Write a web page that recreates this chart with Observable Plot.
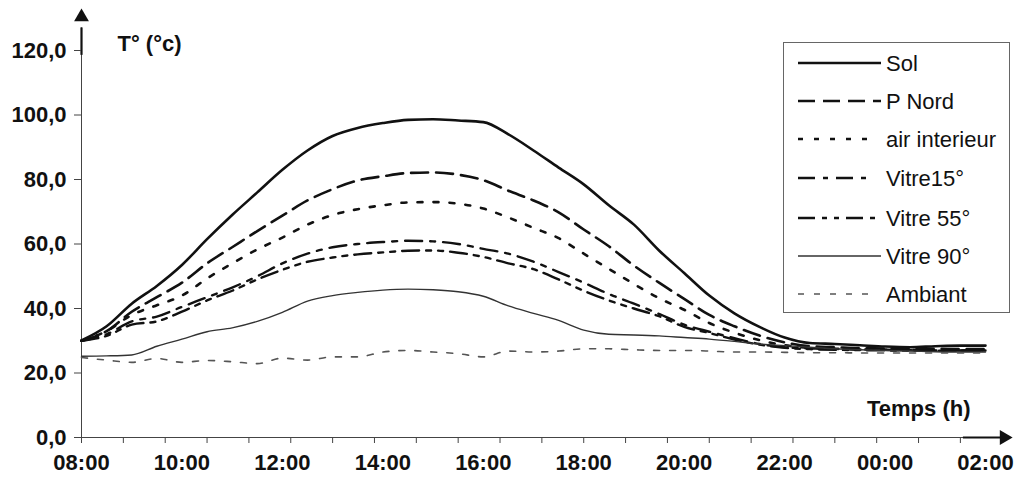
<!DOCTYPE html>
<html><head><meta charset="utf-8">
<script src="https://cdn.jsdelivr.net/npm/d3@7"></script>
<script src="https://cdn.jsdelivr.net/npm/@observablehq/plot@0.6"></script>
<style>
body{margin:0;background:#fff;font-family:"Liberation Sans",Arial,sans-serif}
#wrap{position:relative;width:1016px;height:487px;overflow:hidden}
#legend{position:absolute;left:783px;top:42px;width:227px;height:271px;border:1px solid #666;box-sizing:border-box;background:#fff}
</style></head><body><div id="wrap"></div>
<script>
// time in hours (08:00 = 8, 02:00 next day = 26), every 30 min
const times = d3.range(8, 26.01, 0.5);
const sol =        [30.1,34.5,41.5,47,53.5,61.5,69,76,83,89,93.5,96,97.5,98.5,98.7,98.3,97.8,94,89,83.7,78.5,72,66,58,51,44,38.5,34.3,31,29.3,29,28.6,28.2,28,28.3,28.5,28.5];
const pNord =      [30,33,39,43.5,48,54,59,64,68.8,73.5,77,79.7,81,82,82.2,81.5,79.8,76.5,73.5,69.8,64.5,59.3,53.3,48,43,38,34.5,31.6,29.5,28.3,28,27.7,27.6,27.5,27.5,27.4,27.4];
const airInt =     [30,33,38,41,44,49.3,54,58.3,62,66,69,70.8,72,72.9,73,72.5,71,68.2,65,61.8,57,52.3,47.6,43.2,39.6,35.5,32.5,30.2,28.6,27.8,27.5,27.3,27.2,27.1,27,27,27];
const vitre15 =    [30,32,36,37.5,40.5,43.5,46.5,50,54,57,59,60,60.6,61,60.8,60,58.5,57,54.5,51.3,48,44.5,41.5,38.3,35,32.8,30.8,29,28,27.6,27.5,27.3,27.2,27.1,27,27,27];
const vitre55 =    [30,31.5,35,36,39,42.5,45.5,49,52,54.5,55.8,56.8,57.4,57.9,58,57.3,56,54,52.2,49,45.5,42.5,40,37.6,34.3,32.4,30.4,28.8,27.8,27.4,27.2,27.1,27,27,26.9,26.9,26.9];
const vitre90 =    [25.2,25.3,25.6,28.3,30.5,32.8,34,36,38.8,42.3,44,45,45.7,46,45.8,45.2,43.8,40.8,38.5,36.3,33.3,32,31.8,31.5,31,30.5,29.8,29,28.5,28,27.5,27.2,27,26.8,26.6,26.5,26.5];
const ambiant =    [24.8,24,23.3,24.5,23.3,23.9,23.5,22.9,24.6,24,25,25,26.5,27,26.5,26,25,26.8,26.5,26.8,27.5,27.5,27.2,27,27,26.8,26.5,26.5,26.4,26.3,26.3,26.2,26.2,26.2,26.2,26.2,26.2];

const seriesNames = ["Sol","P Nord","air interieur","Vitre15°","Vitre 55°","Vitre 90°","Ambiant"];
const seriesValues = [sol,pNord,airInt,vitre15,vitre55,vitre90,ambiant];
const styles = [
  {stroke:"#111", width:2.6, dash:null},
  {stroke:"#111", width:2.6, dash:"17,8"},
  {stroke:"#111", width:2.6, dash:"5,11"},
  {stroke:"#111", width:2.4, dash:"17,8,5,8"},
  {stroke:"#111", width:2.4, dash:"17,7,5,7,5,7"},
  {stroke:"#333", width:1.4, dash:null},
  {stroke:"#555", width:1.6, dash:"6,10"}
];

const xLabelHours = [8,10,12,14,16,18,20,22,24,26];
const xLabels = ["08:00","10:00","12:00","14:00","16:00","18:00","20:00","22:00","00:00","02:00"];
const xMinorTicks = d3.range(0, 22).map(k => 8 + k * 5 / 6);
const yTicks = [0,20,40,60,80,100,120];
const xAxisEnd = 26.3, xArrowTip = 26.37, yAxisEnd = 127, yArrowTip = 130.4;

const labelMap = new Map(xLabelHours.map((h, i) => [h, xLabels[i]]));
const font = "Liberation Sans, Arial, sans-serif";

const marks = [
  Plot.ruleY([0], {x1: times[0], x2: xAxisEnd, stroke: "#444", strokeWidth: 1}),
  Plot.ruleY([0], {x1: 25.56, x2: xAxisEnd, stroke: "#111", strokeWidth: 2.2}),
  Plot.ruleX([times[0]], {y1: 0, y2: yAxisEnd, stroke: "#444", strokeWidth: 1}),
  Plot.ruleX([times[0]], {y1: 118.5, y2: yAxisEnd, stroke: "#111", strokeWidth: 2.2}),
  Plot.dot([{t: xArrowTip, v: 0}], {x: "t", y: "v", symbol: "triangle", r: 5.5, fill: "#111", stroke: null, rotate: 90}),
  Plot.dot([{t: times[0], v: yArrowTip}], {x: "t", y: "v", symbol: "triangle", r: 5.5, fill: "#111", stroke: null}),
  Plot.axisX({ticks: xMinorTicks, tickSize: 6, tickFormat: () => "", stroke: "#444", label: null}),
  Plot.axisX({ticks: xLabelHours, tickSize: 0, tickPadding: 17, tickFormat: d => labelMap.get(d), fontSize: 22, fontWeight: "bold", fill: "#111", label: null}),
  Plot.axisY({ticks: yTicks, tickSize: 7, tickPadding: 8, tickFormat: d => d.toFixed(1).replace(".", ","), fontSize: 22, fontWeight: "bold", fill: "#111", stroke: "#444", label: null}),
];
seriesNames.forEach((name, si) => {
  const data = times.map((t, i) => ({t, v: seriesValues[si][i]}));
  const st = styles[si];
  marks.push(Plot.line(data, {x: "t", y: "v", stroke: st.stroke, strokeWidth: st.width, strokeDasharray: st.dash, curve: "monotone-x"}));
});
marks.push(Plot.text(["T° (°c)"], {frameAnchor: "top-left", dx: 36, dy: -7, fontSize: 22, fontWeight: "bold", fill: "#111", textAnchor: "start", lineAnchor: "middle"}));
marks.push(Plot.text(["Temps (h)"], {frameAnchor: "bottom-right", dx: -15, dy: -29, fontSize: 22, fontWeight: "bold", fill: "#111", textAnchor: "end", lineAnchor: "middle"}));

const chart = Plot.plot({
  width: 1016, height: 487,
  marginLeft: 81, marginRight: 31, marginTop: 50, marginBottom: 50,
  x: {domain: [8, 26], label: null},
  y: {domain: [0, 120], label: null},
  style: {fontFamily: font, background: "white", overflow: "visible"},
  marks
});
const wrap = document.getElementById("wrap");
wrap.appendChild(chart);

// legend box
const legend = document.createElement("div");
legend.id = "legend";
const rowY = [20, 58, 96, 135, 175, 213, 251];
const lineEnd = [97, 97, 90, 84, 97, 97, 90];
let svg = `<svg width="225" height="269" style="position:absolute;left:0;top:0">`;
seriesNames.forEach((name, i) => {
  const st = styles[i];
  svg += `<line x1="14" x2="${lineEnd[i]}" y1="${rowY[i]}" y2="${rowY[i]}" stroke="${st.stroke}" stroke-width="${st.width}" ${st.dash ? `stroke-dasharray="${st.dash}"` : ""}/>`;
  svg += `<text x="102" y="${rowY[i]}" dominant-baseline="central" font-family="${font}" font-size="22" fill="#111">${name}</text>`;
});
svg += `</svg>`;
legend.innerHTML = svg;
wrap.appendChild(legend);
</script>
</body></html>
